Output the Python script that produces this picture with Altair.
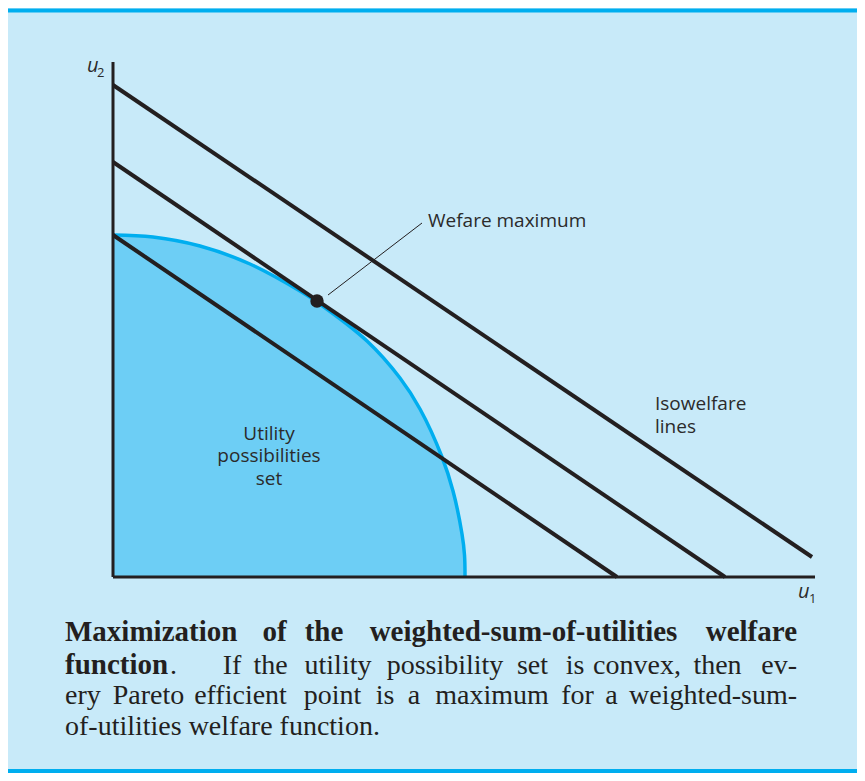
import altair as alt
import pandas as pd

# ---------------- data (units: 1 unit of u1/u2) ----------------
curve_u1 = [0, 4.0, 8.7, 13.7, 18.7, 20.4, 25.4, 28.7, 30.7, 32.9, 34.0, 34.9, 35.15, 35.2]
curve_u2 = [34.2, 34.0, 33.1, 31.3, 28.6, 27.5, 23.6, 19.9, 16.8, 12.0, 8.6, 4.3, 2.2, 0]

line_names = ["low", "mid", "high"]
line_start_u1 = [0, 0, 0]
line_start_u2 = [34.2, 41.5, 49.2]
line_end_u1 = [50.4, 61.2, 69.9]
line_end_u2 = [0, 0, 2.0]

max_u1 = [20.4]
max_u2 = [27.6]

axis_names = ["u1", "u2"]
axis_x1 = [0, 0]
axis_y1 = [0, 0]
axis_x2 = [70.2, 0]
axis_y2 = [0, 51.5]

leader_x = [21.5, 30.9]
leader_y = [28.2, 35.4]

sans_text = ["Wefare maximum", "Isowelfare", "lines"]
sans_x = [31.5, 54.2, 54.2]
sans_y = [35.0, 16.7, 14.4]

set_text = ["Utility", "possibilities", "set"]
set_x = [15.6, 15.6, 15.6]
set_y = [13.7, 11.5, 9.2]

var_text = ["u", "u"]
var_x = [-2.6, 68.5]
var_y = [50.5, -2.1]
sub_text = ["2", "1"]
sub_x = [-1.6, 69.6]
sub_y = [50.0, -2.6]

# caption words: text, anchor position (u1), baseline (u2), anchor kind
cap_bold_words = ["Maximization", "of", "the", "weighted-sum-of-utilities", "welfare", "function"]
cap_bold_x = [-4.8, 16.15, 21.1, 41.05, 68.4, -4.8]
cap_bold_y = [-6.44, -6.44, -6.44, -6.44, -6.44, -9.67]
cap_bold_align = ["left", "center", "center", "center", "right", "left"]

cap_reg_words = [".", "If", "the", "utility", "possibility", "set", "is", "convex,", "then", "ev-",
                 "ery", "Pareto", "efficient", "point", "is", "a", "maximum", "for", "a", "weighted-sum-",
                 "of-utilities welfare function."]
cap_reg_x = [5.7, 11.9, 15.75, 22.5, 33.2, 41.95, 46.2, 52.4, 60.45, 68.4,
             -4.8, 3.55, 12.75, 21.95, 27.2, 30.1, 37.9, 46.45, 49.85, 68.4,
             -4.8]
cap_reg_y = [-9.67] * 10 + [-12.67] * 10 + [-15.77]
cap_reg_align = ["left", "center", "center", "center", "center", "center", "center", "center", "center", "right",
                 "left", "center", "center", "center", "center", "center", "center", "center", "center", "right",
                 "left"]

border_y = [56.65, -19.4]

# ---------------- styling ----------------
BG = "#c8eaf9"
FILL = "#6dcef5"
CYAN = "#00aeef"
INK = "#231f20"
LABEL = "#2b2b2b"
X_DOM = [-10.5, 74.4]
Y_DOM = [-19.6, 56.9]


def X(f):
    return alt.X(f, type="quantitative", scale=alt.Scale(domain=X_DOM, nice=False, zero=False), axis=None)


def Y(f):
    return alt.Y(f, type="quantitative", scale=alt.Scale(domain=Y_DOM, nice=False, zero=False), axis=None)


curve_df = pd.DataFrame({"u1": curve_u1, "u2": curve_u2, "base": [0] * len(curve_u1)})
lines_df = pd.DataFrame({
    "name": line_names * 2,
    "u1": line_start_u1 + line_end_u1,
    "u2": line_start_u2 + line_end_u2,
})
axes_df = pd.DataFrame({"name": axis_names, "x1": axis_x1, "y1": axis_y1, "x2": axis_x2, "y2": axis_y2})
point_df = pd.DataFrame({"u1": max_u1, "u2": max_u2})
leader_df = pd.DataFrame({"u1": leader_x, "u2": leader_y})
border_df = pd.DataFrame({"y": border_y, "x1": [X_DOM[0]] * 2, "x2": [X_DOM[1]] * 2})

area = alt.Chart(curve_df).mark_area(color=FILL, interpolate="catmull-rom", opacity=1).encode(
    x=X("u1"), y=Y("u2"), y2="base:Q"
)
curve = alt.Chart(curve_df).mark_line(color=CYAN, strokeWidth=3.5, interpolate="catmull-rom").encode(
    x=X("u1"), y=Y("u2"), order="u1:Q"
)
iso = alt.Chart(lines_df).mark_line(color=INK, strokeWidth=4).encode(
    x=X("u1"), y=Y("u2"), detail="name:N"
)
axes = alt.Chart(axes_df).mark_rule(color=INK, strokeWidth=3).encode(
    x=X("x1"), y=Y("y1"), x2="x2:Q", y2="y2:Q"
)
point = alt.Chart(point_df).mark_circle(color=INK, size=180, opacity=1).encode(x=X("u1"), y=Y("u2"))
leader = alt.Chart(leader_df).mark_line(color=INK, strokeWidth=1).encode(x=X("u1"), y=Y("u2"))
borders = alt.Chart(border_df).mark_rule(color=CYAN, strokeWidth=4).encode(
    x=X("x1"), x2="x2:Q", y=Y("y")
)


def text_layer(words, xs, ys, **kw):
    df = pd.DataFrame({"t": words, "x": xs, "y": ys})
    return alt.Chart(df).mark_text(baseline="alphabetic", **kw).encode(x=X("x"), y=Y("y"), text="t:N")


def caption_layers(words, xs, ys, aligns, **kw):
    out = []
    for a in ["left", "center", "right"]:
        idx = [i for i, v in enumerate(aligns) if v == a]
        if idx:
            out.append(text_layer([words[i] for i in idx], [xs[i] for i in idx], [ys[i] for i in idx],
                                  align=a, **kw))
    return out


sans = text_layer(sans_text, sans_x, sans_y, align="left", font="Open Sans", fontSize=19, color=LABEL)
settxt = text_layer(set_text, set_x, set_y, align="center", font="Open Sans", fontSize=19, color=LABEL)
var = text_layer(var_text, var_x, var_y, align="left", font="Open Sans", fontSize=20, fontStyle="italic",
                 color=LABEL)
sub = text_layer(sub_text, sub_x, sub_y, align="left", font="Open Sans", fontSize=13, color=LABEL)
cap_b = caption_layers(cap_bold_words, cap_bold_x, cap_bold_y, cap_bold_align, font="Liberation Serif",
                       fontSize=29, fontWeight="bold", color=INK)
cap_r = caption_layers(cap_reg_words, cap_reg_x, cap_reg_y, cap_reg_align, font="Liberation Serif",
                       fontSize=28, color=INK)

chart = alt.layer(
    borders, area, curve, iso, axes, point, leader, sans, settxt, var, sub, *cap_b, *cap_r
).properties(
    width=849, height=765, padding=0, autosize=alt.AutoSizeParams(type="none"), background=BG
).configure_view(stroke=None, fill=BG)

chart.save("out.html", embed_options={"renderer": "svg", "actions": False})
